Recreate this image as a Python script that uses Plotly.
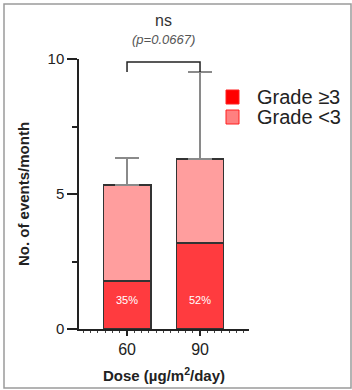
import plotly.graph_objects as go

doses = ["60", "90"]
grade_ge3 = [1.78, 3.19]
grade_lt3 = [3.55, 3.11]
err_upper = [1.0, 3.22]
pct_labels = ["35%", "52%"]
legend_names = ["Grade \u22653", "Grade <3"]

dark = "#FF3B3F"
light = "#FF9E9E"
pos = list(range(len(doses)))
FONT = "Liberation Sans, Arial, sans-serif"

# plot area geometry (px)
L, R, T, B = 79, 249, 59, 329
PW, PH = R - L, B - T


def px(x):
    return (x - L) / PW


def py(y):
    return (B - y) / PH


fig = go.Figure()
fig.add_trace(go.Bar(x=pos, y=grade_ge3, marker=dict(color=dark, line=dict(color="#333333", width=1.5)),
                     width=0.65, showlegend=False, name=legend_names[0], hoverinfo="skip"))
fig.add_trace(go.Bar(x=pos, y=grade_lt3, marker=dict(color=light, line=dict(color="#333333", width=1.5)),
                     width=0.65, showlegend=False, name=legend_names[1], hoverinfo="skip",
                     error_y=dict(type="data", array=err_upper, arrayminus=[0, 0], symmetric=False,
                                  color="#8a8a8a", thickness=2, width=12)))

for p, lab in zip(pos, pct_labels):
    fig.add_annotation(x=p, y=1.08, text=lab, showarrow=False, xref="x", yref="y",
                       font=dict(family=FONT, size=11, color="white"))

# significance bracket
fig.add_shape(type="path", xref="x", yref="paper",
              path=f"M {pos[0]},{py(72)} L {pos[0]},{py(62)} L {pos[1]},{py(62)} L {pos[1]},{py(72)}",
              line=dict(color="#222222", width=1.5))
fig.add_annotation(x=0.5, y=py(21), text="ns", showarrow=False, xref="x", yref="paper",
                   yanchor="middle", font=dict(family=FONT, size=16, color="#333333"))
fig.add_annotation(x=0.5, y=py(40), text="<i>(p=0.0667)</i>", showarrow=False, xref="x", yref="paper",
                   yanchor="middle", font=dict(family=FONT, size=13, color="#555555"))

# legend (manual)
leg_y = [97, 117]
leg_cols = ["#FF0000", "#FF8080"]
for ly, c, name in zip(leg_y, leg_cols, legend_names):
    fig.add_shape(type="rect", xref="paper", yref="paper",
                  x0=px(226), x1=px(239), y0=py(ly + 7), y1=py(ly - 7),
                  fillcolor=c, line=dict(color="#FF2020", width=1))
    fig.add_annotation(xref="paper", yref="paper", x=px(255), y=py(ly),
                       text=name, showarrow=False, xanchor="left", yanchor="middle",
                       font=dict(family=FONT, size=20, color="#222222"))

# outer frame
fig.add_shape(type="rect", xref="paper", yref="paper",
              x0=px(4), x1=px(351), y0=py(388), y1=py(4),
              line=dict(color="#9a9a9a", width=1.5))

fig.update_layout(
    barmode="stack",
    width=352, height=390,
    margin=dict(l=L, r=352 - R, t=T, b=390 - B),
    plot_bgcolor="white", paper_bgcolor="white",
    font=dict(family=FONT, color="#222222"),
    xaxis=dict(range=[-0.658, 1.671], tickvals=pos, ticktext=doses, showline=True, linecolor="#222222",
               linewidth=1.5, ticks="outside", ticklen=5, tickwidth=2, tickcolor="#222222",
               showgrid=False, zeroline=False, tickfont=dict(size=16), automargin=False,
               minor=dict(dtick=0.1, tick0=0, ticks="outside", ticklen=2, tickwidth=1, tickcolor="#444444"),
               title=dict(text="<b>Dose (\u00b5g/m<sup>2</sup>/day)</b>", font=dict(size=15), standoff=14)),
    yaxis=dict(range=[0, 10], tickvals=[0, 5, 10], showline=True, linecolor="#222222", linewidth=1.5,
               ticks="outside", ticklen=10, tickwidth=1.5, tickcolor="#222222", showgrid=False,
               zeroline=False, tickfont=dict(size=15), automargin=False,
               minor=dict(tickvals=[2.5, 7.5], ticks="outside", ticklen=5, tickwidth=1.5, tickcolor="#222222"),
               title=dict(text="<b>No. of events/month</b>", font=dict(size=15), standoff=14)),
)

fig.write_html("out.html", config={"displayModeBar": False},
               post_script="document.body.style.margin='0';document.body.style.overflow='hidden';")
